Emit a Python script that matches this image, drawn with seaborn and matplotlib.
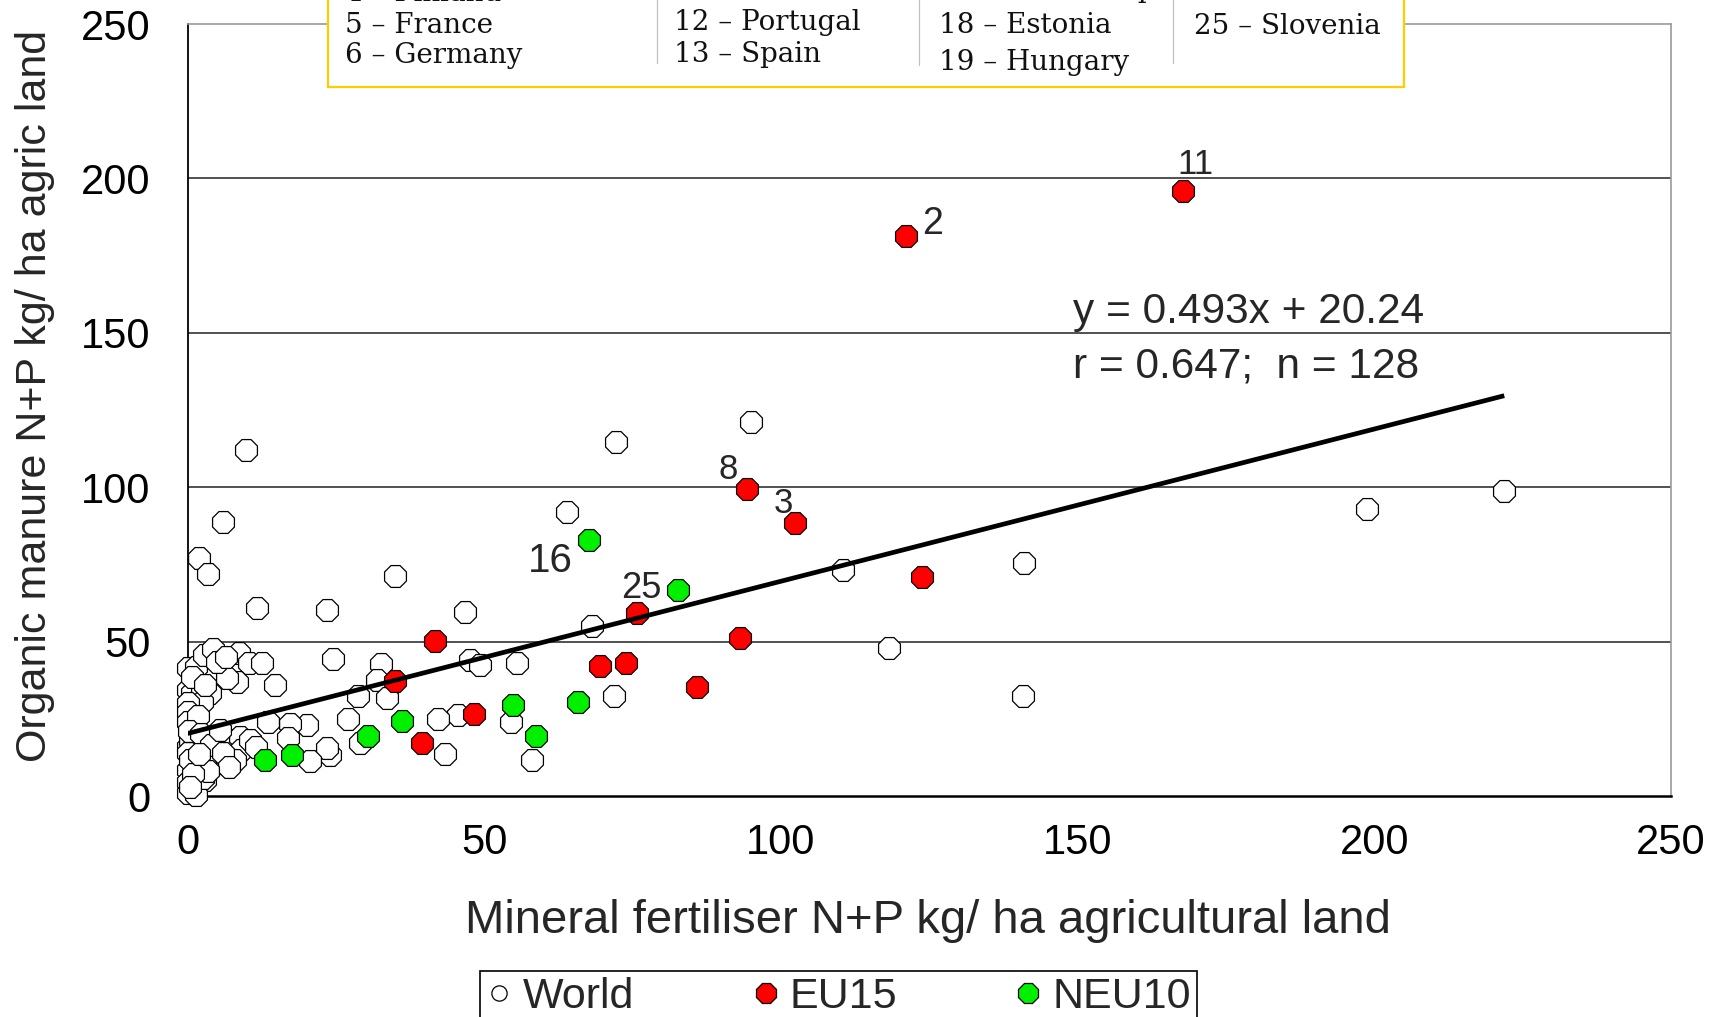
import matplotlib
matplotlib.use("Agg")
import numpy as np
import pandas as pd
import matplotlib.pyplot as plt
from matplotlib.lines import Line2D
from matplotlib.patches import Rectangle
import seaborn as sns

# ---------------- data ----------------
world_x = [221.9, 198.8, 95.0, 72.2, 9.8, 6.0, 63.9, 2.0, 3.5, 35.0,
           110.5, 141.0, 11.7, 23.5, 46.8, 68.1, 118.2, 140.8, 71.8, 58.1,
           54.6, 55.5, 47.6, 49.3, 45.6, 42.2, 43.4, 24.6, 32.6, 31.9,
           33.6, 28.8, 27.1, 29.1, 24.0, 23.5, 20.6, 20.1, 17.3, 17.0,
           13.6, 14.7,
           0.0, 1.5, 2.7, 4.3, 8.6, 10.4, 12.5, 8.3, 6.6,
           0.0, 0.7, 2.4, 3.8, 2.4,
           0.0, 0.0, 1.0, 0.0,
           0.0, 3.2, 5.2, 6.6, 8.8,
           9.1, 8.0, 4.9, 2.9, 1.0, 0.1,
           0.0, 1.3, 2.9, 0.0, 1.5,
           1.3, 0.4, 1.5, 0.0, 0.4, 2.6,
           0.8, 3.0, 5.0, 6.5, 1.8, 0.2, 2.2, 4.0, 6.0, 7.0, 3.5, 1.0, 0.5,
           2.0, 10.5, 11.5, 5.5]
world_y = [98.7, 93.0, 121.1, 114.7, 111.9, 88.8, 92.0, 77.2, 71.8, 71.2,
           73.1, 75.3, 60.8, 60.2, 59.7, 55.1, 48.0, 32.3, 32.4, 11.8,
           23.9, 43.1, 44.0, 42.4, 26.2, 24.8, 13.5, 44.4, 42.6, 37.6,
           31.6, 32.4, 24.8, 17.1, 13.3, 15.4, 11.2, 23.1, 23.4, 18.7,
           24.1, 35.9,
           41.3, 41.9, 45.7, 47.6, 46.2, 43.0, 43.0, 37.0, 38.1,
           34.3, 33.3, 33.8, 33.3, 30.5,
           30.0, 27.3, 24.1, 24.1,
           16.0, 18.1, 18.7, 18.1, 19.2,
           14.9, 11.7, 10.6, 11.7, 10.0, 8.4,
           4.6, 5.2, 5.2, 0.9, 0.3,
           22.4, 18.1, 17.1, 13.8, 11.7, 5.7,
           38.5, 36.0, 43.5, 45.0, 26.0, 21.0, 20.0, 16.5, 14.0, 9.5, 8.0, 7.0, 3.0,
           13.5, 18.0, 16.0, 21.5]

eu15_x = [167.8, 121.0, 94.3, 102.4, 123.8, 75.8, 93.1, 41.7, 69.5, 73.9, 85.8, 35.0, 48.2, 39.5]
eu15_y = [196.0, 181.5, 99.4, 88.3, 70.9, 59.2, 51.1, 50.2, 42.2, 43.0, 35.4, 37.2, 26.5, 17.1]

neu10_x = [67.7, 82.6, 54.8, 65.8, 58.8, 36.2, 30.5, 17.6, 13.1]
neu10_y = [82.8, 66.8, 29.6, 30.4, 19.3, 24.2, 19.4, 13.3, 11.6]

groups = ["World", "EU15", "NEU10"]
group_colors = ["white", "#FF0000", "#00F000"]

fit_slope = 0.493
fit_intercept = 20.24
eq_lines = ["y = 0.493x + 20.24", "r = 0.647;  n = 128"]

# labelled countries: (text, group, index in that group)
point_labels = [("11", "EU15", 0), ("2", "EU15", 1), ("8", "EU15", 2),
                ("3", "EU15", 3), ("16", "NEU10", 0), ("25", "NEU10", 1)]

ticks = [0, 50, 100, 150, 200, 250]
xlabel = "Mineral fertiliser N+P kg/ ha agricultural land"
ylabel = "Organic manure N+P kg/ ha agric land"

key_col1 = ["4 \u2013 Finland", "5 \u2013 France", "6 \u2013 Germany"]
key_col2 = ["11 \u2013 Netherlands", "12 \u2013 Portugal", "13 \u2013 Spain"]
key_col3 = ["17 \u2013 Czech Rep", "18 \u2013 Estonia", "19 \u2013 Hungary"]
key_col4 = ["24 \u2013 Slovakia", "25 \u2013 Slovenia"]

# ---------------- figure ----------------
sns.set_style("white")
plt.rcParams["font.family"] = ["Liberation Sans", "DejaVu Sans"]

W, H = 1719, 1017
fig = plt.figure(figsize=(W / 100, H / 100), dpi=100)
ax = fig.add_axes([187.5 / W, 1 - 796 / H, (1671 - 187.5) / W, (796 - 24) / H])

df = pd.DataFrame({
    "x": world_x + eu15_x + neu10_x,
    "y": world_y + eu15_y + neu10_y,
    "group": ["World"] * len(world_x) + ["EU15"] * len(eu15_x) + ["NEU10"] * len(neu10_x),
})
sel = {"World": (world_x, world_y), "EU15": (eu15_x, eu15_y), "NEU10": (neu10_x, neu10_y)}

for g, c in zip(groups, group_colors):
    sns.scatterplot(data=df[df["group"] == g], x="x", y="y", color=c, marker="8",
                    s=290, edgecolor="black", linewidth=0.9, ax=ax, legend=False, zorder=3)
for coll in ax.collections:
    coll.set_clip_on(False)

# regression line
xl = np.array([0.0, max(df["x"])])
ax.plot(xl, fit_slope * xl + fit_intercept, color="black", lw=3.4, zorder=5,
        solid_capstyle="butt")

# equation text
ax.text(149.2, 153.2, eq_lines[0], fontsize=30.5, va="baseline", ha="left", zorder=6)
ax.text(149.2, 135.4, eq_lines[1], fontsize=30.5, va="baseline", ha="left", zorder=6)

# point labels (offsets in points)
label_style = {
    "11": dict(off=(8.6, 12.2), ha="center", size=25),
    "2": dict(off=(11.9, 1.1), ha="left", size=27),
    "8": dict(off=(-6.5, 7.2), ha="right", size=25),
    "3": dict(off=(-1.4, 7.2), ha="right", size=25),
    "16": dict(off=(-12.2, -23.0), ha="right", size=29),
    "25": dict(off=(-11.3, -6.0), ha="right", size=26),
}
for txt, g, i in point_labels:
    st = label_style[txt]
    px, py = sel[g][0][i], sel[g][1][i]
    ax.annotate(txt, (px, py), xytext=st["off"], textcoords="offset points",
                ha=st["ha"], va="baseline", fontsize=st["size"], zorder=6)

# axes styling
ax.set_xlim(0, 250)
ax.set_ylim(0, 250)
ax.set_xticks(ticks)
ax.set_yticks(ticks)
ax.set_xticklabels([str(t) for t in ticks])
ax.set_yticklabels([str(t) for t in ticks])
ax.tick_params(axis="both", direction="out", length=10.5, width=1.0, color="black",
               labelsize=30, labelcolor="black")
ax.tick_params(axis="y", pad=16)
ax.tick_params(axis="x", pad=9)
ax.yaxis.grid(True, color="#222222", lw=1.1)
ax.xaxis.grid(False)
ax.set_axisbelow(True)
gl = ax.yaxis.get_gridlines()
gl[0].set_visible(False)
gl[-1].set_visible(False)
for side in ["top", "right"]:
    ax.spines[side].set_visible(True)
    ax.spines[side].set_color("#9a9a9a")
    ax.spines[side].set_linewidth(1.2)
ax.spines["left"].set_color("black")
ax.spines["left"].set_linewidth(1.3)
ax.spines["bottom"].set_color("black")
ax.spines["bottom"].set_linewidth(1.8)

ax.set_xlabel(xlabel, fontsize=34)
ax.set_ylabel(ylabel, fontsize=31)
ax.xaxis.label.set_va("center")
ax.yaxis.label.set_va("center")
ax.xaxis.set_label_coords(0.499, -0.162)
ax.yaxis.set_label_coords(-0.1028, 0.518)

# bottom legend
handles = [
    Line2D([], [], marker="o", ls="none", markerfacecolor="white", markeredgecolor="black",
           markeredgewidth=0.9, markersize=11),
    Line2D([], [], marker="8", ls="none", markerfacecolor=group_colors[1], markeredgecolor="black",
           markeredgewidth=0.9, markersize=15),
    Line2D([], [], marker="8", ls="none", markerfacecolor=group_colors[2], markeredgecolor="black",
           markeredgewidth=0.9, markersize=15),
]
leg = fig.legend(handles, groups, loc="upper left", bbox_to_anchor=(480 / W, 1 - 971 / H),
                 ncol=3, fontsize=31, handlelength=0.6, handletextpad=0.25,
                 columnspacing=2.75, borderpad=0.15, borderaxespad=0, frameon=True,
                 fancybox=False, edgecolor="black", framealpha=1)
leg.get_frame().set_linewidth(1.2)

# top key box (partly cut off by the figure edge)
box = Rectangle((328 / W, 1 - 87 / H), (1404 - 328) / W, 0.2, transform=fig.transFigure,
                facecolor="white", edgecolor="#FFCC00", lw=1.6, zorder=5)
fig.add_artist(box)
for xsep, yend in [(657, 63), (918.5, 65), (1172.5, 63)]:
    fig.add_artist(Line2D([xsep / W, xsep / W], [1 - yend / H, 1.05], transform=fig.transFigure,
                          color="#c0c0c0", lw=0.9, zorder=6))
key_cols = [(key_col1, 345, [1, 33, 63]), (key_col2, 674, [-4, 30, 62]),
            (key_col3, 939, [-3, 33, 70]), (key_col4, 1194, [0, 34])]
for names, xpos, bases in key_cols:
    for name, b in zip(names, bases):
        fig.text(xpos / W, 1 - b / H, name, ha="left", va="baseline", fontsize=20,
                 family=["DejaVu Serif"], color="#111111", zorder=7)

fig.savefig("out.png", dpi=100, facecolor="white")
